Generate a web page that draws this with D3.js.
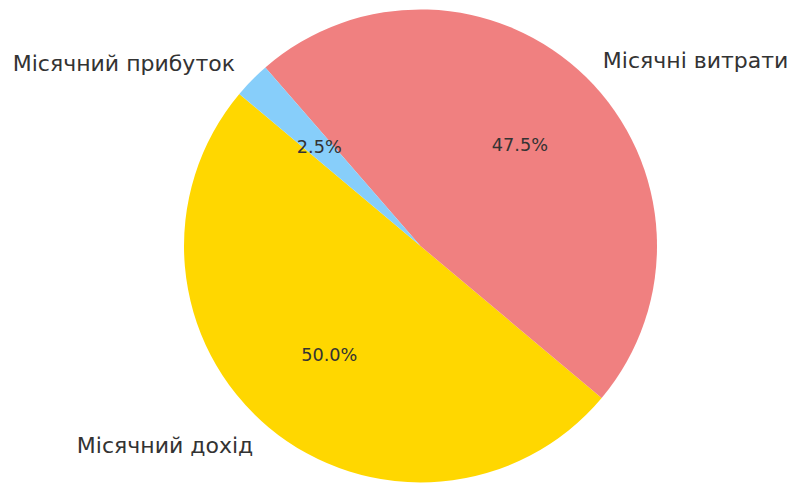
<!DOCTYPE html>
<html><head><meta charset="utf-8">
<script src="https://cdn.jsdelivr.net/npm/d3@7"></script>
<style>body{margin:0;background:#fff}svg{display:block}</style>
</head><body>
<svg id="c" width="794" height="484"></svg>
<script>
const categories = ["Місячний дохід", "Місячні витрати", "Місячний прибуток"];
const values = [50.0, 47.5, 2.5];
const colors = ["#FFD700", "#F08080", "#87CEFA"];

const W = 794, H = 484, cx = 420.5, cy = 246, R = 236.5;
const startDeg = 140;
const toRad = d => d * Math.PI / 180;
const svg = d3.select("#c");
const g = svg.append("g").attr("transform", `translate(${cx},${cy})`);

const pie = d3.pie().sort(null).value(d => d.v)
  .startAngle(toRad(90 - startDeg)).endAngle(toRad(90 - startDeg - 360));
const data = pie(categories.map((c, i) => ({c, v: values[i], col: colors[i]})));
const arc = d3.arc().innerRadius(0).outerRadius(R);

g.selectAll("path").data(data).join("path")
  .attr("d", d => arc({startAngle: Math.min(d.startAngle, d.endAngle), endAngle: Math.max(d.startAngle, d.endAngle)}))
  .attr("fill", d => d.data.col);

function pos(d, f) {
  const a = (d.startAngle + d.endAngle) / 2;
  return [f * R * Math.sin(a), -f * R * Math.cos(a)];
}
g.selectAll("text.lbl").data(data).join("text").attr("class", "lbl")
  .attr("x", d => pos(d, 1.1)[0]).attr("y", d => pos(d, 1.1)[1])
  .attr("text-anchor", d => pos(d, 1.1)[0] < 0 ? "end" : "start")
  .attr("dominant-baseline", "central")
  .attr("font-family", "DejaVu Sans").attr("font-size", 22).attr("fill", "#333")
  .text(d => d.data.c);
const total = d3.sum(values);
g.selectAll("text.pct").data(data).join("text").attr("class", "pct")
  .attr("x", d => pos(d, 0.6)[0]).attr("y", d => pos(d, 0.6)[1])
  .attr("text-anchor", "middle").attr("dominant-baseline", "central")
  .attr("font-family", "DejaVu Sans").attr("font-size", 17.7).attr("fill", "#333")
  .text(d => (d.data.v / total * 100).toFixed(1) + "%");
</script>
</body></html>
